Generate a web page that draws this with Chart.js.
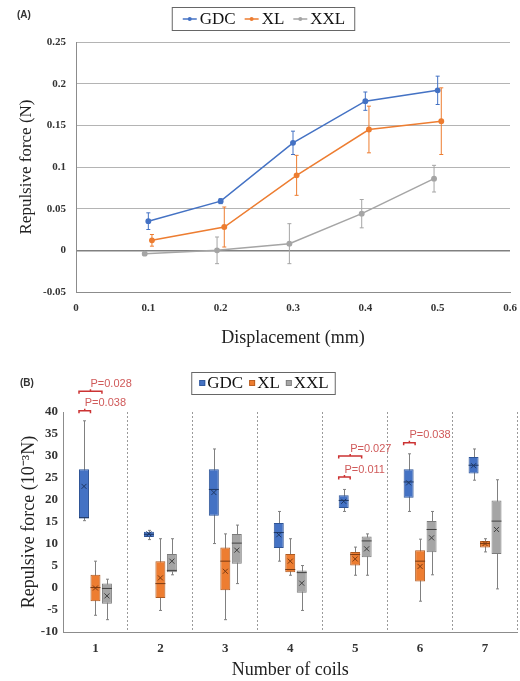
<!DOCTYPE html>
<html>
<head>
<meta charset="utf-8">
<script src="https://cdn.jsdelivr.net/npm/chart.js@4.4.1/dist/chart.umd.min.js"></script>
<style>
  html, body { margin: 0; padding: 0; background: #fff; }
  #wrapA { position: absolute; left: 0; top: 0; width: 520px; height: 355px; }
  #wrapB { position: absolute; left: 0; top: 355px; width: 520px; height: 326px; }
</style>
</head>
<body>
<div id="wrapA"><canvas id="lineChart" width="520" height="355"></canvas></div>
<div id="wrapB"><canvas id="boxChart" width="520" height="326"></canvas></div>
<script>
// ---- panel A : force vs displacement ----
var displacement = [0.1, 0.2, 0.3, 0.4, 0.5];
var gdcForce = [0.035, 0.059, 0.129, 0.179, 0.192];
var gdcErr   = [0.010, 0.003, 0.014, 0.011, 0.017];
var xlForce  = [0.012, 0.028, 0.090, 0.145, 0.155];
var xlErr    = [0.007, 0.024, 0.024, 0.028, 0.040];
var xxlForce = [-0.004, 0.000, 0.008, 0.044, 0.086];
var xxlErr   = [0.002, 0.016, 0.024, 0.017, 0.016];

// ---- panel B : box plots per number of coils ----
// each row: [min, q1, median, q3, max, mean]  (10^-3 N)
var coils = ['1', '2', '3', '4', '5', '6', '7'];
var gdcStats = [
  [15.3, 15.8, 16.0, 27.0, 38.0, 23.1],
  [11.0, 11.6, 12.2, 12.8, 13.1, 12.3],
  [10.1, 16.4, 22.4, 27.0, 31.6, 21.7],
  [6.1, 9.1, 12.6, 14.8, 17.4, 12.1],
  [17.4, 18.2, 19.9, 21.1, 22.4, 19.7],
  [17.4, 20.5, 24.1, 27.0, 30.5, 23.9],
  [24.5, 26.0, 27.9, 29.8, 31.6, 27.8]
];
var xlStats = [
  [-6.2, -3.0, 0.1, 3.0, 6.1, 0.0],
  [-5.1, -2.3, 1.0, 6.1, 11.2, 2.3],
  [-7.2, -0.5, 6.1, 9.2, 12.3, 3.8],
  [2.9, 3.6, 4.2, 7.7, 11.2, 6.1],
  [2.9, 5.1, 7.6, 8.2, 9.3, 6.6],
  [-3.0, 1.5, 6.1, 8.6, 11.1, 4.9],
  [8.2, 9.2, 10.1, 10.7, 11.2, 10.1]
];
var xxlStats = [
  [-7.2, -3.6, -0.1, 1.0, 2.0, -1.8],
  [3.0, 3.6, 4.0, 7.7, 11.2, 6.1],
  [1.0, 5.5, 10.2, 12.3, 14.3, 8.6],
  [-5.1, -1.1, 3.5, 4.0, 5.1, 1.1],
  [2.9, 7.0, 10.7, 11.7, 12.3, 8.9],
  [3.0, 8.1, 13.3, 15.2, 17.4, 11.4],
  [-0.2, 7.7, 15.2, 19.9, 24.6, 13.3]
];
// significance brackets: category index, from/to series, bracket height, label
var pLabels = ['P=0.028', 'P=0.038', 'P=0.027', 'P=0.011', 'P=0.038'];
var pCategory = [0, 0, 4, 4, 5];
var pFrom = [0, 0, 0, 0, 0];
var pTo = [2, 1, 2, 1, 1];
var pHeight = [44.7, 40.3, 30.0, 25.2, 33.0];

var BLUE = '#4472c4', ORANGE = '#ed7d31', GRAY = '#a5a5a5';
var SERIF = '"Liberation Serif", "Times New Roman", serif';
Chart.defaults.font.family = SERIF;
Chart.defaults.color = '#222';

function fmt(v) { return String(parseFloat(Number(v).toFixed(2))); }

function points(xs, ys, shift) {
  return xs.map(function (x, i) { return { x: x + shift, y: ys[i] }; });
}

var errorBars = {
  id: 'errorBars',
  afterDatasetsDraw: function (chart) {
    var ctx = chart.ctx, ys = chart.scales.y;
    ctx.save();
    chart.data.datasets.forEach(function (ds, i) {
      var meta = chart.getDatasetMeta(i);
      ctx.strokeStyle = ds.borderColor;
      ctx.lineWidth = 1;
      meta.data.forEach(function (pt, j) {
        var v = ds.data[j].y, e = ds.errors[j];
        var top = ys.getPixelForValue(v + e), bot = ys.getPixelForValue(v - e);
        ctx.beginPath();
        ctx.moveTo(pt.x, top); ctx.lineTo(pt.x, bot);
        ctx.moveTo(pt.x - 2, top); ctx.lineTo(pt.x + 2, top);
        ctx.moveTo(pt.x - 2, bot); ctx.lineTo(pt.x + 2, bot);
        ctx.stroke();
      });
    });
    ctx.restore();
  },
  afterDraw: function (chart) {
    var ctx = chart.ctx;
    ctx.save();
    ctx.font = 'bold 10px "Liberation Sans", Arial, sans-serif';
    ctx.fillStyle = '#333';
    ctx.textBaseline = 'middle';
    ctx.fillText('(A)', 17, 15);

    // legend with line markers
    ctx.font = '17px ' + SERIF;
    var items = chart.data.datasets, widths = [], total = 0;
    items.forEach(function (ds, i) {
      var w = 14 + 3 + ctx.measureText(ds.label).width;
      widths.push(w); total += w + (i ? 9 : 0);
    });
    var x = 264 - total / 2, yMid = 19;
    ctx.strokeStyle = '#666'; ctx.lineWidth = 1;
    ctx.strokeRect(x - 10.5, 7.5, total + 20, 23);
    items.forEach(function (ds, i) {
      ctx.strokeStyle = ds.borderColor; ctx.fillStyle = ds.borderColor; ctx.lineWidth = 1.5;
      ctx.beginPath(); ctx.moveTo(x, yMid); ctx.lineTo(x + 14, yMid); ctx.stroke();
      ctx.beginPath(); ctx.arc(x + 7, yMid, 2, 0, Math.PI * 2); ctx.fill();
      ctx.fillStyle = '#111';
      ctx.fillText(ds.label, x + 17, yMid + 1);
      x += widths[i] + 9;
    });
    ctx.restore();
  }
};

new Chart(document.getElementById('lineChart').getContext('2d'), {
  type: 'line',
  data: {
    datasets: [
      { label: 'GDC', data: points(displacement, gdcForce, 0), errors: gdcErr,
        borderColor: BLUE, backgroundColor: BLUE, borderWidth: 1.5, pointRadius: 2.2 },
      { label: 'XL', data: points(displacement, xlForce, 0.005), errors: xlErr,
        borderColor: ORANGE, backgroundColor: ORANGE, borderWidth: 1.5, pointRadius: 2.2 },
      { label: 'XXL', data: points(displacement, xxlForce, -0.005), errors: xxlErr,
        borderColor: GRAY, backgroundColor: GRAY, borderWidth: 1.5, pointRadius: 2.2 }
    ]
  },
  options: {
    responsive: false,
    animation: false,
    layout: { padding: { top: 42, right: 0, left: 0, bottom: 0 } },
    plugins: { legend: { display: false }, tooltip: { enabled: false } },
    scales: {
      x: {
        type: 'linear', min: 0, max: 0.6,
        ticks: { stepSize: 0.1, padding: 10, color: '#333', callback: fmt,
                 font: { size: 11, weight: 'bold' } },
        grid: { display: false, drawTicks: false },
        border: { color: '#8c8c8c' },
        title: { display: true, text: 'Displacement (mm)', color: '#222',
                 font: { size: 18 }, padding: { top: 4, bottom: 6 } },
        afterFit: function (s) { s.height = 63; s.paddingRight = 10; s.paddingLeft = 0; }
      },
      y: {
        min: -0.05, max: 0.25,
        ticks: { stepSize: 0.05, padding: 10, color: '#333', callback: fmt,
                 font: { size: 11, weight: 'bold' } },
        grid: { drawTicks: false,
                color: function (c) { return c.tick && Math.abs(c.tick.value) < 1e-9 ? '#808080' : '#b4b4b4'; },
                lineWidth: function (c) { return c.tick && Math.abs(c.tick.value) < 1e-9 ? 1.5 : 1; } },
        border: { color: '#8c8c8c' },
        title: { display: true, text: 'Repulsive force (N)', color: '#222',
                 font: { size: 17 }, padding: { top: 16, bottom: 0 } },
        afterFit: function (s) { s.width = 76; }
      }
    }
  },
  plugins: [errorBars]
});

// ---- box plot chart ----
var boxParts = {
  id: 'boxParts',
  beforeDatasetsDraw: function (chart) {
    var ctx = chart.ctx, ys = chart.scales.y;
    ctx.save();
    ctx.strokeStyle = '#808080'; ctx.lineWidth = 1;
    chart.data.datasets.forEach(function (ds, i) {
      chart.getDatasetMeta(i).data.forEach(function (bar, j) {
        var s = ds.stats[j], x = Math.round(bar.x) + 0.5;
        var yMin = ys.getPixelForValue(s[0]), yMax = ys.getPixelForValue(s[4]);
        ctx.beginPath();
        ctx.moveTo(x, yMin); ctx.lineTo(x, yMax);
        ctx.moveTo(x - 1.5, yMin); ctx.lineTo(x + 1.5, yMin);
        ctx.moveTo(x - 1.5, yMax); ctx.lineTo(x + 1.5, yMax);
        ctx.stroke();
      });
    });
    ctx.restore();
  },
  afterDatasetsDraw: function (chart) {
    var ctx = chart.ctx, ys = chart.scales.y;
    ctx.save();
    chart.data.datasets.forEach(function (ds, i) {
      chart.getDatasetMeta(i).data.forEach(function (bar, j) {
        var s = ds.stats[j], half = bar.width / 2;
        var yMed = ys.getPixelForValue(s[2]), yMean = ys.getPixelForValue(s[5]);
        ctx.strokeStyle = ds.darkColor; ctx.lineWidth = 1;
        ctx.beginPath();
        ctx.moveTo(bar.x - half, yMed); ctx.lineTo(bar.x + half, yMed);
        ctx.moveTo(bar.x - 2.5, yMean - 2.5); ctx.lineTo(bar.x + 2.5, yMean + 2.5);
        ctx.moveTo(bar.x + 2.5, yMean - 2.5); ctx.lineTo(bar.x - 2.5, yMean + 2.5);
        ctx.stroke();
      });
    });

    // significance brackets
    ctx.strokeStyle = '#cc3333'; ctx.fillStyle = '#d05a5a'; ctx.lineWidth = 1.5;
    ctx.font = '11px "Liberation Sans", Arial, sans-serif';
    ctx.textBaseline = 'bottom';
    pLabels.forEach(function (label, k) {
      var a = chart.getDatasetMeta(pFrom[k]).data[pCategory[k]];
      var b = chart.getDatasetMeta(pTo[k]).data[pCategory[k]];
      var x1 = a.x - a.width / 2, x2 = b.x - b.width / 2;
      var y = ys.getPixelForValue(pHeight[k]), xm = (x1 + x2) / 2;
      ctx.beginPath();
      ctx.moveTo(x1, y + 2.5); ctx.lineTo(x1, y); ctx.lineTo(x2, y); ctx.lineTo(x2, y + 2.5);
      ctx.moveTo(xm, y); ctx.lineTo(xm, y - 2);
      ctx.stroke();
      ctx.fillText(label, xm, y - 2);
    });

    ctx.font = 'bold 10px "Liberation Sans", Arial, sans-serif';
    ctx.fillStyle = '#333'; ctx.textBaseline = 'middle';
    ctx.fillText('(B)', 20, 28);

    // legend with square markers
    ctx.font = '17px ' + SERIF;
    var items = chart.data.datasets, widths = [], total = 0;
    items.forEach(function (ds, i) {
      var w = 6 + 2 + ctx.measureText(ds.label).width;
      widths.push(w); total += w + (i ? 6 : 0);
    });
    var x = 264 - total / 2, yMid = 28;
    ctx.strokeStyle = '#666'; ctx.lineWidth = 1;
    ctx.strokeRect(x - 7.5, 17.5, total + 14, 22);
    items.forEach(function (ds, i) {
      ctx.fillStyle = ds.backgroundColor;
      ctx.fillRect(x, yMid - 3, 6, 6);
      ctx.strokeStyle = ds.borderColor; ctx.lineWidth = 0.8;
      ctx.strokeRect(x + 0.5, yMid - 2.5, 5, 5);
      ctx.fillStyle = '#111';
      ctx.fillText(ds.label, x + 8, yMid + 1);
      x += widths[i] + 6;
    });
    ctx.restore();
  }
};

function boxData(stats) { return stats.map(function (s) { return [s[1], s[3]]; }); }

new Chart(document.getElementById('boxChart').getContext('2d'), {
  type: 'bar',
  data: {
    labels: coils,
    datasets: [
      { label: 'GDC', data: boxData(gdcStats), stats: gdcStats,
        backgroundColor: BLUE, borderColor: '#2f5597', darkColor: '#1f3864' },
      { label: 'XL', data: boxData(xlStats), stats: xlStats,
        backgroundColor: ORANGE, borderColor: '#ae5a21', darkColor: '#7a3a12' },
      { label: 'XXL', data: boxData(xxlStats), stats: xxlStats,
        backgroundColor: GRAY, borderColor: '#7b7b7b', darkColor: '#404040' }
    ]
  },
  options: {
    responsive: false,
    animation: false,
    datasets: { bar: { borderWidth: 1, borderSkipped: false, categoryPercentage: 0.53, barPercentage: 0.87 } },
    layout: { padding: { top: 57, right: 2.5, left: 0, bottom: 0 } },
    plugins: { legend: { display: false }, tooltip: { enabled: false } },
    scales: {
      x: {
        offset: true,
        ticks: { padding: 9, color: '#333', font: { size: 13, weight: 'bold' } },
        grid: { offset: true, drawTicks: false, color: '#9a9a9a', lineWidth: 1 },
        border: { color: '#8c8c8c', dash: [2, 2] },
        title: { display: true, text: 'Number of coils', color: '#222',
                 font: { size: 18 }, padding: { top: 2, bottom: 0 } },
        afterFit: function (s) { s.height = 49; }
      },
      y: {
        min: -10, max: 40,
        ticks: { stepSize: 5, padding: 5, color: '#333', font: { size: 13, weight: 'bold' } },
        grid: { display: false, drawTicks: false },
        border: { color: '#8c8c8c' },
        title: { display: true, text: 'Repulsive force (10⁻³N)', color: '#222',
                 font: { size: 18 }, padding: { top: 18, bottom: 0 } },
        afterFit: function (s) { s.width = 63; }
      }
    }
  },
  plugins: [boxParts]
});
</script>
</body>
</html>
